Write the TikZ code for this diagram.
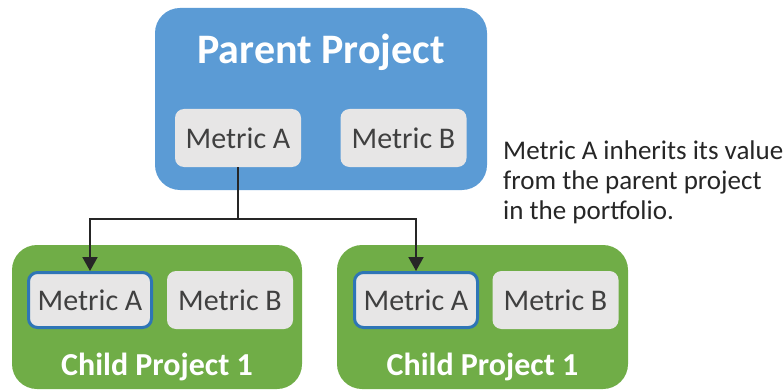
\documentclass[tikz,border=0pt]{standalone}
\usepackage{fontspec}
\setmainfont{Carlito}
\usetikzlibrary{arrows.meta}
\definecolor{parentblue}{HTML}{5B9BD5}
\definecolor{childgreen}{HTML}{70AD47}
\definecolor{metricgray}{HTML}{E7E6E6}
\definecolor{metricline}{HTML}{2E75B6}
\definecolor{metrictext}{HTML}{404040}
\begin{document}
\begin{tikzpicture}[x=1pt,y=-1pt,
		project/.style={fill=#1,draw=none,rounded corners=25pt,inner sep=0pt},
		metric/.style={fill=metricgray,rounded corners=9pt,minimum width=126pt,minimum height=58pt,inner sep=0pt,text=metrictext,font=\fontsize{30}{33}\selectfont},
		picked/.style={draw=metricline,line width=3pt,minimum width=123pt,minimum height=55pt},
		title/.style={text=white,font=\fontsize{#1}{#1}\selectfont\bfseries},
		link/.style={line width=2pt,draw=black!85,-{Triangle[width=15pt,length=14pt]}}]
	\useasboundingbox (0,0) rectangle (783,390);
	% Parent project
	\node [project=parentblue,minimum width=332pt,minimum height=182pt] (parent) at (321,99) {};
	\node [title=42] (ptitle) at (321,52) {Parent Project};
	\node [metric] (pA) at (238,138) {Metric A};
	\node [metric] (pB) at (403.5,138) {Metric B};
	% Child projects
	\node [project=childgreen,minimum width=290pt,minimum height=144pt] (child1) at (157,317) {};
	\node [metric,picked] (c1A) at (90,300) {Metric A};
	\node [metric] (c1B) at (230,300) {Metric B};
	\node [title=32] (c1title) at (157,367) {Child Project 1};
	\node [project=childgreen,minimum width=291pt,minimum height=144pt] (child2) at (482.5,317) {};
	\node [metric,picked] (c2A) at (416,300) {Metric A};
	\node [metric] (c2B) at (555.5,300) {Metric B};
	\node [title=32] (c2title) at (482.5,367) {Child Project 1};
	% Inheritance
	\coordinate (split) at (pA.south |- 0,219);
	\draw [link] (pA.south) -- (split) -| (c1A.north);
	\draw [link] (split) -| (c2A.north);
	\node [anchor=north west,inner sep=0pt,align=left,text=black!85,font=\fontsize{27}{30}\selectfont] (note) at (503,141)
		{Metric A inherits its value\\from the parent project\\in the portfolio.};
\end{tikzpicture}
\end{document}
